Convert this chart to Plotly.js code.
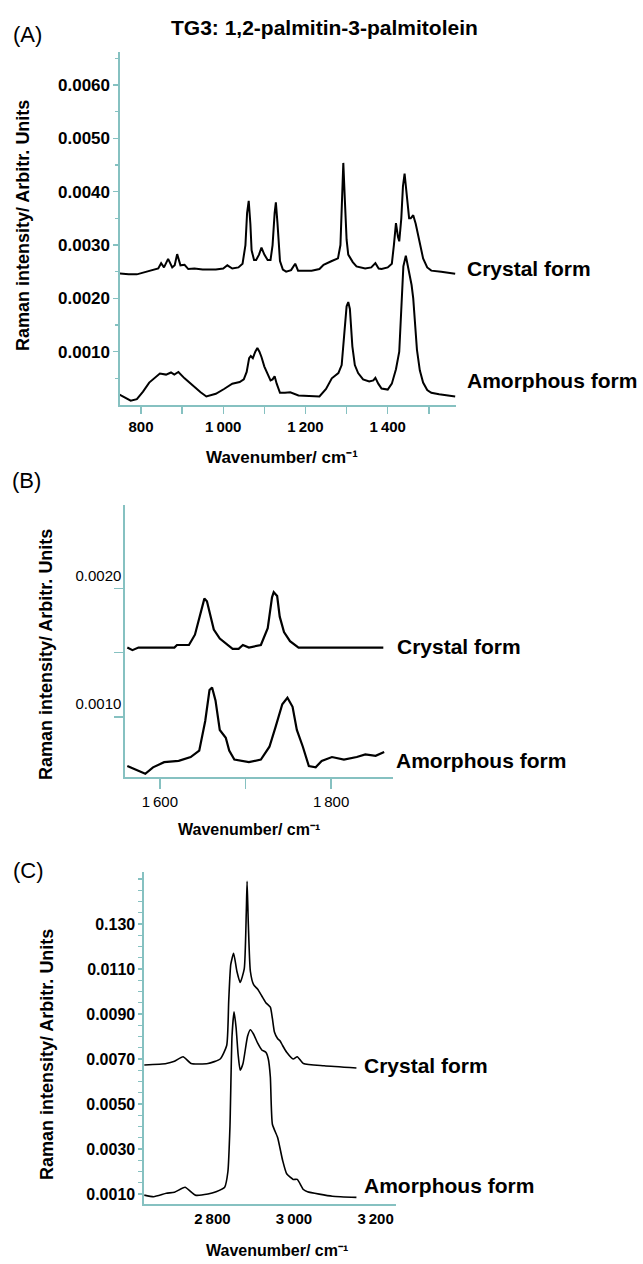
<!DOCTYPE html>
<html>
<head>
<meta charset="utf-8">
<script src="https://cdn.plot.ly/plotly-3.0.1.min.js"></script>
<style>html,body{margin:0;padding:0;background:#fff}#chart{width:643px;height:1264px}</style>
</head>
<body>
<div id="chart"></div>
<script>
// ---------- DATA ----------
// Panel A (fingerprint region)
const aCrystalWn = [747,770,790,810,830,842,849,856,866,876,882,888,896,906,915,930,950,982,1000,1010,1022,1037,1047,1054,1058,1062,1066,1069,1075,1080,1087,1093,1100,1108,1115,1120,1125,1128,1132,1138,1145,1153,1165,1175,1182,1193,1215,1234,1244,1264,1279,1285,1289,1292,1296,1300,1304,1315,1324,1345,1360,1370,1378,1385,1400,1410,1415,1420,1425,1428,1433,1437,1441,1446,1452,1456,1462,1468,1476,1486,1496,1506,1530,1550,1564];
const aCrystalInt = [0.00247,0.00245,0.00245,0.00249,0.00254,0.00256,0.00266,0.00258,0.00274,0.00258,0.00262,0.00283,0.00262,0.00263,0.00255,0.00256,0.00254,0.00254,0.00256,0.00262,0.00256,0.00258,0.00265,0.00300,0.00360,0.00383,0.00340,0.00290,0.00272,0.00272,0.00282,0.00295,0.00282,0.00272,0.00272,0.00300,0.00360,0.00380,0.00340,0.00270,0.00254,0.00250,0.00253,0.00265,0.00252,0.00252,0.00252,0.00255,0.00263,0.00270,0.00275,0.00300,0.00380,0.00454,0.00380,0.00310,0.00282,0.00268,0.00260,0.00256,0.00258,0.00266,0.00256,0.00255,0.00258,0.00265,0.00300,0.00341,0.00315,0.00307,0.00350,0.00410,0.00434,0.00400,0.00350,0.00350,0.00356,0.00340,0.00313,0.00275,0.00258,0.00252,0.00250,0.00247,0.00246];
const aAmorphWn = [747,760,775,790,805,820,835,846,861,873,881,891,906,920,931,945,959,970,982,1002,1022,1040,1050,1057,1063,1067,1072,1078,1083,1088,1093,1100,1108,1115,1120,1125,1130,1138,1150,1163,1183,1210,1234,1250,1264,1280,1288,1294,1300,1304,1308,1314,1320,1328,1340,1355,1365,1370,1377,1385,1400,1410,1420,1428,1433,1438,1444,1450,1458,1462,1467,1471,1478,1486,1496,1506,1525,1546,1564];
const aAmorphInt = [0.00020,0.00015,0.00008,0.00011,0.00025,0.00042,0.00052,0.00059,0.00057,0.00061,0.00057,0.00062,0.00050,0.00040,0.00033,0.00024,0.00016,0.00018,0.00021,0.00030,0.00040,0.00043,0.00048,0.00062,0.00088,0.00092,0.00088,0.00100,0.00107,0.00100,0.00090,0.00072,0.00058,0.00046,0.00048,0.00054,0.00040,0.00023,0.00023,0.00024,0.00018,0.00017,0.00016,0.00030,0.00050,0.00060,0.00075,0.00130,0.00185,0.00193,0.00180,0.00110,0.00075,0.00060,0.00048,0.00044,0.00046,0.00051,0.00040,0.00031,0.00029,0.00040,0.00067,0.00100,0.00180,0.00260,0.00280,0.00255,0.00225,0.00200,0.00150,0.00104,0.00065,0.00042,0.00028,0.00023,0.00020,0.00018,0.00016];

// Panel B (C=C / C=O region)
const bCrystalWn = [1562,1568,1575,1617,1620,1634,1641,1647,1652,1655,1658,1663,1670,1679,1685,1692,1697,1704,1718,1726,1731,1733,1737,1740,1745,1752,1762,1861];
const bCrystalInt = [0.00154,0.00152,0.00154,0.00154,0.00156,0.00156,0.00164,0.00179,0.00192,0.00190,0.00181,0.00168,0.00161,0.00156,0.00153,0.00153,0.00156,0.00154,0.00156,0.00169,0.00193,0.00197,0.00194,0.00178,0.00166,0.00159,0.00154,0.00154];
const bAmorphWn = [1562,1573,1583,1592,1605,1622,1636,1646,1653,1658,1661,1665,1670,1677,1681,1687,1704,1718,1728,1735,1743,1749,1755,1760,1767,1774,1782,1789,1801,1815,1830,1840,1852,1862];
const bAmorphInt = [0.00062,0.00059,0.00056,0.00061,0.00065,0.00066,0.00069,0.00074,0.00097,0.00121,0.00123,0.00113,0.00090,0.00084,0.00074,0.00067,0.00065,0.00067,0.00077,0.00092,0.00110,0.00115,0.00108,0.00090,0.00077,0.00062,0.00061,0.00066,0.00069,0.00067,0.00069,0.00071,0.00070,0.00073];

// Panel C (C-H stretching region)
const cCrystalWn = [2633,2687,2707,2728,2748,2789,2819,2835,2840,2845,2852,2860,2868,2878,2883,2885,2888,2893,2901,2911,2921,2931,2942,2947,2952,2960,2966,2972,2982,2998,3008,3023,3074,3153];
const cCrystalInt = [0.00673,0.00680,0.00690,0.00710,0.00680,0.00680,0.00700,0.00760,0.00960,0.01120,0.01170,0.01090,0.01040,0.01100,0.01350,0.01490,0.01300,0.01090,0.01030,0.01010,0.00980,0.00950,0.00930,0.00880,0.00820,0.00790,0.00780,0.00760,0.00730,0.00700,0.00710,0.00680,0.00670,0.00660];
const cAmorphWn = [2633,2656,2687,2707,2733,2758,2789,2809,2830,2838,2843,2848,2853,2858,2863,2868,2875,2886,2893,2901,2911,2921,2931,2937,2942,2947,2960,2972,2982,2998,3008,3023,3033,3094,3153];
const cAmorphInt = [0.00095,0.00088,0.00103,0.00108,0.00130,0.00095,0.00100,0.00110,0.00130,0.00200,0.00400,0.00800,0.00910,0.00840,0.00720,0.00650,0.00680,0.00800,0.00830,0.00810,0.00770,0.00740,0.00730,0.00700,0.00620,0.00410,0.00350,0.00250,0.00190,0.00165,0.00165,0.00120,0.00110,0.00090,0.00085];

// Tick labels
const aXTickVals = [800,1000,1200,1400];
const aXTickText = ['800','1\u2009000','1\u2009200','1\u2009400'];
const aXMinorVals = [900,1100,1300,1500];
const aYTickVals = [0.001,0.002,0.003,0.004,0.005,0.006];
const aYTickText = ['0.0010','0.0020','0.0030','0.0040','0.0050','0.0060'];
const aYMinorVals = [0.0005,0.0015,0.0025,0.0035,0.0045,0.0055,0.0065];
const bXTickVals = [1600,1800];
const bXTickText = ['1\u2009600','1\u2009800'];
const bXMinorVals = [1700];
const bYTickVals = [0.001,0.002];
const bYTickText = ['0.0010','0.0020'];
const bYMinorVals = [0.0015];
const cXTickVals = [2800,3000,3200];
const cXTickText = ['2\u2009800','3\u2009000','3\u2009200'];
const cYTickVals = [0.001,0.003,0.005,0.007,0.009,0.011,0.013];
const cYTickText = ['0.0010','0.0030','0.0050','0.0070','0.0090','0.0110','0.130'];
const cYMinorVals = [0.0015,0.002,0.0025,0.0035,0.004,0.0045,0.0055,0.006,0.0065,0.0075,0.008,0.0085,0.0095,0.010,0.0105,0.0115,0.012,0.0125,0.0135,0.014,0.0145,0.015];

const title = 'TG3: 1,2-palmitin-3-palmitolein';
const xTitle = 'Wavenumber/ cm\u207B\u00B9';
const yTitle = 'Raman intensity/ Arbitr. Units';
const seriesNames = ['Crystal form','Amorphous form'];
const panelNames = ['(A)','(B)','(C)'];

// ---------- LAYOUT ----------
const W = 643, H = 1264;
const px = v => v / W;
const py = v => 1 - v / H;
const FONT = 'Arial, "Liberation Sans", sans-serif';
const AX = '#86c1c1';
const f = (size, bold) => ({family: FONT, size: size, color: '#000', weight: bold ? 'bold' : 'normal'});

const traces = [
  {x: aCrystalWn, y: aCrystalInt, xaxis: 'x', yaxis: 'y', name: seriesNames[0]},
  {x: aAmorphWn, y: aAmorphInt, xaxis: 'x', yaxis: 'y', name: seriesNames[1]},
  {x: bCrystalWn, y: bCrystalInt, xaxis: 'x2', yaxis: 'y2', name: seriesNames[0]},
  {x: bAmorphWn, y: bAmorphInt, xaxis: 'x2', yaxis: 'y2', name: seriesNames[1]},
  {x: cCrystalWn, y: cCrystalInt, xaxis: 'x3', yaxis: 'y3', name: seriesNames[0]},
  {x: cAmorphWn, y: cAmorphInt, xaxis: 'x3', yaxis: 'y3', name: seriesNames[1]}
].map((t, i) => Object.assign(t, {
  type: 'scatter', mode: 'lines', hoverinfo: 'skip',
  line: i < 4 ? {color: '#000', width: i < 2 ? 2 : 2.2}
              : {color: '#000', width: 1.6, shape: 'spline', smoothing: 0.5}
}));

const baseAxis = {showgrid: false, zeroline: false, showline: true, linecolor: AX, linewidth: 1.6,
  tickcolor: AX, tickwidth: 1.4, ticks: 'outside', tickmode: 'array', fixedrange: true, automargin: false};
const minor = (vals, len) => ({tickvals: vals, ticklen: len, tickcolor: AX, tickwidth: 1.4, ticks: 'outside'});

const layout = {
  width: W, height: H, margin: {l: 0, r: 0, t: 0, b: 0},
  paper_bgcolor: '#fff', plot_bgcolor: '#fff', showlegend: false,
  font: {family: FONT, color: '#000'},
  xaxis: Object.assign({}, baseAxis, {domain: [px(120), px(456)], range: [749, 1566], anchor: 'y',
    tickvals: aXTickVals, ticktext: aXTickText, ticklen: 7, tickfont: f(15, true),
    minor: minor(aXMinorVals, 7)}),
  yaxis: Object.assign({}, baseAxis, {domain: [py(405), py(52)], range: [0, 0.00662], anchor: 'x',
    tickvals: aYTickVals, ticktext: aYTickText, ticklen: 5, tickfont: f(17, true),
    minor: minor(aYMinorVals, 3)}),
  xaxis2: Object.assign({}, baseAxis, {domain: [px(125), px(393)], range: [1559.3, 1872.3], anchor: 'y2',
    tickvals: bXTickVals, ticktext: bXTickText, ticklen: 10, tickfont: f(15, false),
    minor: minor(bXMinorVals, 10)}),
  yaxis2: Object.assign({}, baseAxis, {domain: [py(777), py(505)], range: [0.000535, 0.002647], anchor: 'x2',
    tickvals: bYTickVals, ticktext: bYTickText, ticklen: 9, ticklabelshift: -13, ticklabelstandoff: -10,
    tickfont: f(15, false), minor: minor(bYMinorVals, 9)}),
  xaxis3: Object.assign({}, baseAxis, {domain: [px(144), px(396)], range: [2632.3, 3250], anchor: 'y3',
    tickvals: cXTickVals, ticktext: cXTickText, ticks: '', tickfont: f(15, true)}),
  yaxis3: Object.assign({}, baseAxis, {domain: [py(1204), py(872)], range: [0.000556, 0.01531], anchor: 'x3',
    tickvals: cYTickVals, ticktext: cYTickText, ticklen: 4, tickfont: f(16, true),
    minor: minor(cYMinorVals, 4)}),
  annotations: []
};

function ann(text, x, y, font, opts) {
  layout.annotations.push(Object.assign({text, xref: 'paper', yref: 'paper', x: px(x), y: py(y),
    showarrow: false, xanchor: 'center', yanchor: 'middle', font: font}, opts || {}));
}

// title and panel letters
ann(title, 324, 27, f(21, true));
ann(panelNames[0], 27, 34, f(22, false));
ann(panelNames[1], 26, 481, f(22, false));
ann(panelNames[2], 28, 870, f(22, false));

// axis titles
ann(xTitle, 282, 457, f(17, true));
ann(xTitle, 249, 829, f(16, true));
ann(xTitle, 277, 1250, f(16, true));
const V = {textangle: -90};
ann(yTitle, 23, 226, f(18, true), V);
ann(yTitle, 46, 655, f(18, true), V);
ann(yTitle, 47, 1055, f(18, true), V);

// series labels
const L = {xanchor: 'left'};
ann(seriesNames[0], 465, 268, f(21, true), L);
ann(seriesNames[1], 465, 380, f(21, true), L);
ann(seriesNames[0], 395, 647, f(21, true), L);
ann(seriesNames[1], 394, 760, f(21, true), L);
ann(seriesNames[0], 362, 1065, f(21, true), L);
ann(seriesNames[1], 362, 1185, f(21, true), L);

Plotly.newPlot('chart', traces, layout, {displayModeBar: false, staticPlot: true});
</script>
</body>
</html>
